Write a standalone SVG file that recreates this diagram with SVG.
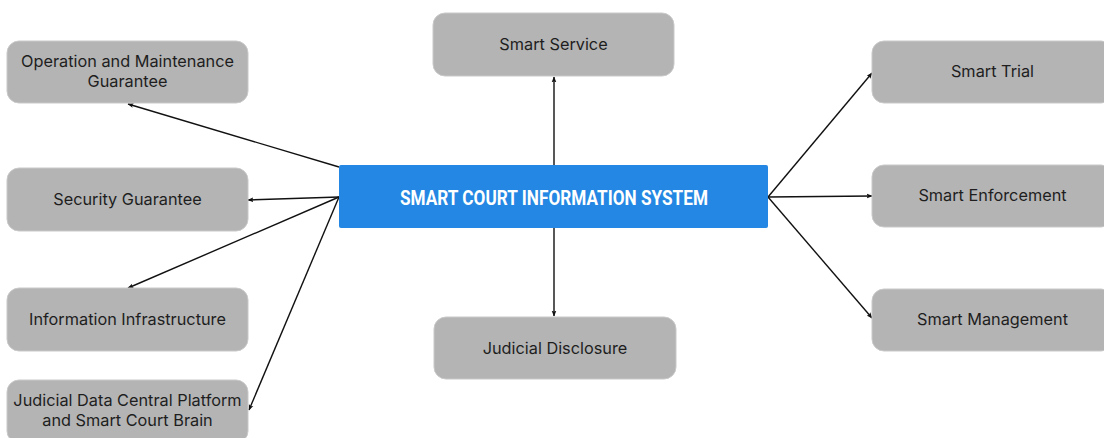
<svg xmlns="http://www.w3.org/2000/svg" width="1104" height="438" viewBox="0 0 1104 438">
<style>
.box{fill:#b4b4b4;stroke:#c9c9c9;stroke-width:1}
.lbl{font-family:Inter,"Noto Sans","Liberation Sans",sans-serif;font-size:16.3px;fill:#1e1e1e;text-anchor:middle}
.ttl{font-family:Roboto,"Liberation Sans",sans-serif;font-weight:bold;font-size:21px;fill:#ffffff;text-anchor:middle}
.conn line{stroke:#111;stroke-width:1.4;fill:none;marker-end:url(#ah)}
</style>
<defs>
<marker id="ah" viewBox="0 0 10 10" refX="9" refY="5" markerWidth="6" markerHeight="6" orient="auto" markerUnits="userSpaceOnUse">
<path d="M0,1 L10,5 L0,9 L2,5 Z" fill="#111"/>
</marker>
</defs>
<rect width="1104" height="438" fill="#ffffff"/>
<g class="conn" id="connectors">
<line x1="554" y1="165" x2="554" y2="77"/>
<line x1="554" y1="228" x2="554" y2="316"/>
<line x1="339" y1="167" x2="128" y2="104"/>
<line x1="339" y1="197" x2="248" y2="200"/>
<line x1="339" y1="197" x2="128" y2="288"/>
<line x1="339" y1="197" x2="249" y2="410"/>
<line x1="768" y1="197" x2="872" y2="73"/>
<line x1="768" y1="197" x2="872" y2="196"/>
<line x1="768" y1="197" x2="872" y2="318"/>
</g>
<g id="center">
<rect x="339" y="165" width="429" height="63" rx="2" fill="#2387e3"/>
<text class="ttl" x="554" y="204.5" textLength="308" lengthAdjust="spacingAndGlyphs">SMART COURT INFORMATION SYSTEM</text>
</g>
<g id="smart-service">
<rect class="box" x="433" y="13" width="241" height="63" rx="12"/>
<text class="lbl" x="553.5" y="50">Smart Service</text>
</g>
<g id="judicial-disclosure">
<rect class="box" x="434" y="317" width="242" height="62" rx="12"/>
<text class="lbl" x="555" y="354">Judicial Disclosure</text>
</g>
<g id="operation-maintenance">
<rect class="box" x="7" y="41" width="241" height="62" rx="12"/>
<text class="lbl" x="127.5" y="67">Operation and Maintenance</text>
<text class="lbl" x="127.5" y="87">Guarantee</text>
</g>
<g id="security-guarantee">
<rect class="box" x="7" y="168" width="241" height="63" rx="12"/>
<text class="lbl" x="127.5" y="205">Security Guarantee</text>
</g>
<g id="information-infrastructure">
<rect class="box" x="7" y="288" width="241" height="63" rx="12"/>
<text class="lbl" x="127.5" y="325">Information Infrastructure</text>
</g>
<g id="judicial-data">
<rect class="box" x="7" y="380" width="241" height="63" rx="12"/>
<text class="lbl" x="127.5" y="406">Judicial Data Central Platform</text>
<text class="lbl" x="127.5" y="426">and Smart Court Brain</text>
</g>
<g id="smart-trial">
<rect class="box" x="872" y="41" width="241" height="62" rx="12"/>
<text class="lbl" x="992.5" y="77">Smart Trial</text>
</g>
<g id="smart-enforcement">
<rect class="box" x="872" y="165" width="241" height="62" rx="12"/>
<text class="lbl" x="992.5" y="201">Smart Enforcement</text>
</g>
<g id="smart-management">
<rect class="box" x="872" y="289" width="241" height="62" rx="12"/>
<text class="lbl" x="992.5" y="325">Smart Management</text>
</g>
</svg>
